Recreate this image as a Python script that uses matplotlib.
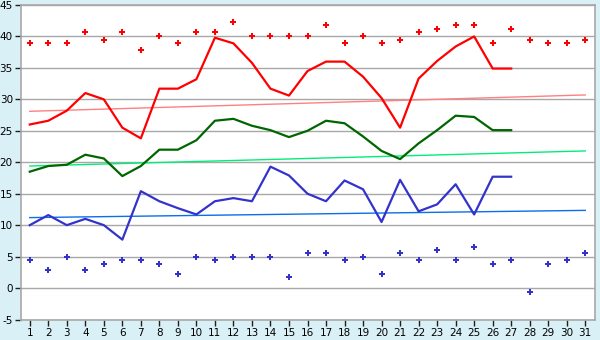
import matplotlib
matplotlib.use("Agg")
import matplotlib.pyplot as plt
import numpy as np

days = list(range(1, 32))
max_marks = [39, 39, 39, 40.7, 39.4, 40.7, 37.8, 40, 39, 40.7,
             40.7, 42.3, 40, 40, 40, 40, 41.8, 39, 40, 39,
             39.4, 40.7, 41.2, 41.8, 41.8, 39, 41.2, 39.4, 39, 39, 39.4]
min_marks = [4.4, 2.8, 4.9, 2.8, 3.9, 4.4, 4.4, 3.9, 2.2, 4.9,
             4.4, 4.9, 4.9, 4.9, 1.7, 5.5, 5.5, 4.4, 4.9, 2.2,
             5.5, 4.4, 6.0, 4.4, 6.6, 3.9, 4.4, -0.7, 3.9, 4.4, 5.5]
high = [26.0, 26.6, 28.2, 31.0, 30.0, 25.5, 23.8, 31.7, 31.7, 33.2,
        39.8, 38.9, 35.8, 31.7, 30.6, 34.5, 36.0, 36.0, 33.6, 30.2,
        25.5, 33.3, 36.1, 38.4, 40.0, 34.9, 34.9]
mean = [18.5, 19.4, 19.6, 21.2, 20.6, 17.8, 19.4, 22.0, 22.0, 23.5,
        26.6, 26.9, 25.8, 25.1, 24.0, 25.0, 26.6, 26.2, 24.1, 21.8,
        20.5, 23.0, 25.1, 27.4, 27.2, 25.1, 25.1]
low = [10.0, 11.6, 10.0, 11.0, 10.0, 7.7, 15.4, 13.8, 12.7, 11.7,
       13.8, 14.3, 13.8, 19.3, 17.9, 15.0, 13.8, 17.1, 15.7, 10.5,
       17.2, 12.2, 13.3, 16.5, 11.7, 17.7, 17.7]
trend_high = [28.1, 30.7]
trend_mean = [19.4, 21.8]
trend_low = [11.2, 12.35]
trend_days = [1, 31]
yticks = list(range(-5, 50, 5))

bg = '#daf0f7'
fig = plt.figure(figsize=(6, 3.4), dpi=100, facecolor=bg)
ax = fig.add_axes([20.5/600, 20.5/340, 574/600, 314.5/340])
ax.set_facecolor('white')

for y in yticks:
    ax.axhline(y, color='#a8a8a8', lw=1.0, zorder=1)

ax.plot(trend_days, trend_high, color='#ff8080', lw=1.0, zorder=2)
ax.plot(trend_days, trend_mean, color='#00ee77', lw=1.0, zorder=2)
ax.plot(trend_days, trend_low, color='#0a6fe8', lw=1.0, zorder=2)

n = len(high)
ax.plot(days[:n], high, color='#ff0000', lw=1.6, zorder=3)
ax.plot(days[:n], mean, color='#006600', lw=1.6, zorder=3)
ax.plot(days[:n], low, color='#3333cc', lw=1.6, zorder=3)

ax.plot(days, max_marks, ls='none', marker='P', ms=5, color='#ff0000',
        mec='#ff0000', mew=0, zorder=4)
ax.plot(days, min_marks, ls='none', marker='P', ms=5, color='#3333cc',
        mec='#3333cc', mew=0, zorder=4)

ax.set_xlim(0.5, 31.5)
ax.set_ylim(-5, 45)
ax.set_xticks(days)
ax.set_xticklabels([str(d) for d in days])
ax.set_yticks(yticks)
ax.set_yticklabels([str(y) for y in yticks])
ax.tick_params(axis='both', labelsize=7.5, length=4, width=1, color='#202020',
               labelcolor='#000000', pad=2)
ax.tick_params(axis='y', pad=1.5)
for s in ax.spines.values():
    s.set_color('#a8a8a8')
    s.set_linewidth(1.2)

fig.savefig('out.png', dpi=100, facecolor=bg)
